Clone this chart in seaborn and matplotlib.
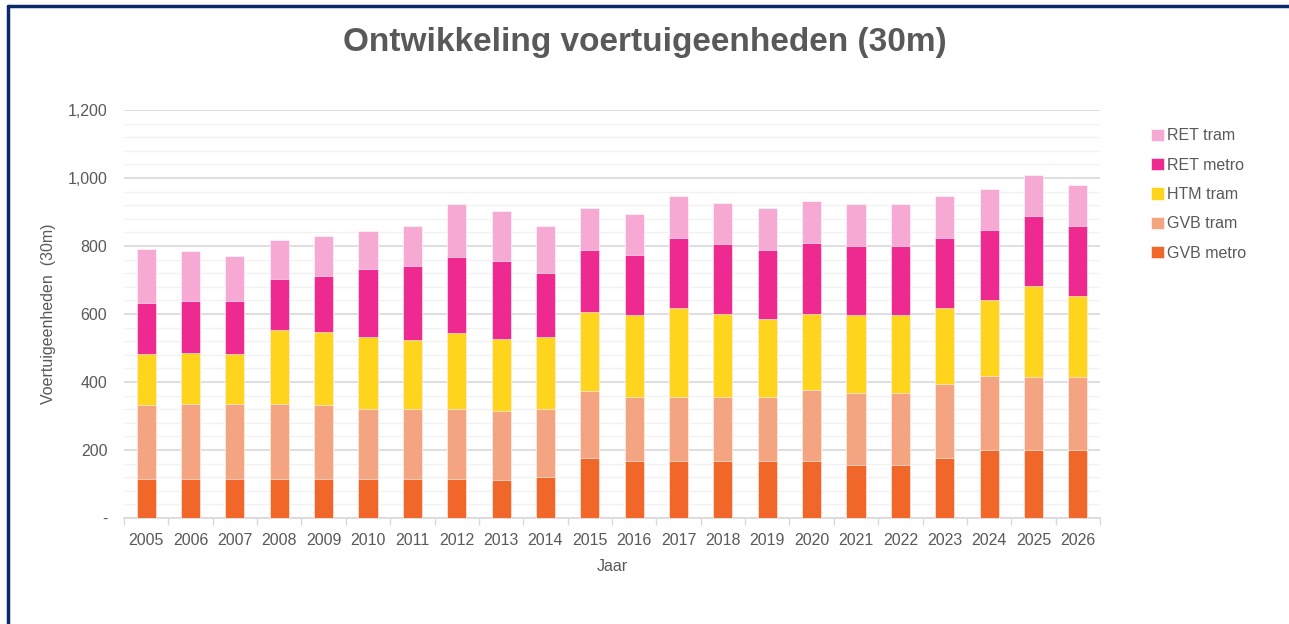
import numpy as np
import pandas as pd
import matplotlib
matplotlib.use("Agg")
import matplotlib.pyplot as plt
from matplotlib.patches import Patch
from matplotlib.lines import Line2D
from matplotlib.ticker import MultipleLocator, FixedLocator, FuncFormatter
import seaborn as sns

# data (units of 30m)
years = [str(y) for y in range(2005, 2027)]
gvb_metro = [116, 116, 116, 116, 116, 116, 116, 116, 112, 120, 176, 169, 169, 169, 169, 169, 157, 157, 176, 201, 201, 201]
gvb_tram = [215, 219, 219, 219, 215, 204, 204, 204, 204, 200, 197, 187, 187, 187, 187, 207, 212, 212, 217, 217, 213, 213]
htm_tram = [151, 151, 147, 217, 217, 211, 204, 224, 211, 211, 232, 241, 262, 245, 228, 225, 228, 228, 225, 224, 269, 240]
ret_metro = [151, 151, 155, 152, 164, 200, 216, 225, 230, 189, 184, 176, 207, 204, 205, 208, 204, 204, 207, 204, 204, 205]
ret_tram = [159, 147, 135, 113, 117, 114, 118, 154, 146, 138, 122, 122, 123, 122, 122, 122, 123, 123, 123, 123, 122, 121]

series = ["GVB metro", "GVB tram", "HTM tram", "RET metro", "RET tram"]
colors = ["#F1672A", "#F5A481", "#FED51C", "#EE2A91", "#F6A9D2"]

df = pd.DataFrame({"Jaar": years,
                   "GVB metro": gvb_metro,
                   "GVB tram": gvb_tram,
                   "HTM tram": htm_tram,
                   "RET metro": ret_metro,
                   "RET tram": ret_tram})
cum = df[series].cumsum(axis=1)

sns.set_theme(style="white")
plt.rcParams['font.family'] = ['Liberation Sans', 'DejaVu Sans']
grey = "#595959"

fig = plt.figure(figsize=(12.89, 6.24), dpi=100)
ax = fig.add_axes([124 / 1289, 106 / 624, 976 / 1289, 408 / 624])

# draw stacked bars top-down so each lower layer covers the one above
for name, col in reversed(list(zip(series, colors))):
    sns.barplot(x=df["Jaar"], y=cum[name], color=col, width=0.43,
                edgecolor="white", linewidth=0.4, saturation=1, ax=ax, zorder=3)

ax.set_ylim(0, 1200)
ax.set_xlim(-0.5, len(years) - 0.5)
ax.yaxis.set_major_locator(MultipleLocator(200))
ax.yaxis.set_minor_locator(MultipleLocator(40))
ax.yaxis.set_major_formatter(FuncFormatter(lambda v, p: "-" if v == 0 else f"{int(v):,}"))
ax.grid(which="major", axis="y", color="#D9D9D9", linewidth=1.2, zorder=0)
ax.grid(which="minor", axis="y", color="#F2F2F2", linewidth=1.0, zorder=0)
ax.set_axisbelow(True)

for s in ["top", "right", "left"]:
    ax.spines[s].set_visible(False)
ax.spines["bottom"].set_color("#D9D9D9")
ax.spines["bottom"].set_linewidth(1.2)

ax.xaxis.set_minor_locator(FixedLocator(np.arange(-0.5, len(years), 1.0)))
ax.tick_params(axis="x", which="major", length=0, pad=11, labelsize=11.5, labelcolor=grey)
ax.tick_params(axis="x", which="minor", length=5, width=1, color="#D9D9D9", bottom=True)
ax.tick_params(axis="y", which="both", length=0, pad=12, labelsize=11.5, labelcolor=grey)

ax.set_xlabel("Jaar", fontsize=11.5, color=grey, labelpad=8)
ax.set_ylabel("Voertuigeenheden  (30m)", fontsize=11.5, color=grey, labelpad=8)

fig.text(0.5, 1 - 43 / 624, "Ontwikkeling voertuigeenheden (30m)", ha="center", va="center",
         fontsize=24, fontweight="bold", color=grey)

handles = [Patch(facecolor=c, edgecolor="white", linewidth=0.4) for c in colors][::-1]
fig.legend(handles, series[::-1], loc="upper left", bbox_to_anchor=(1137 / 1289, 1 - 114 / 624),
           frameon=False, fontsize=11.5, labelcolor=grey, handlelength=0.8, handleheight=0.8,
           handletextpad=0.2, labelspacing=0.9)

# navy frame on top and left edge, as in the original
fig.add_artist(Line2D([8 / 1289, 1], [1 - 6 / 624, 1 - 6 / 624], transform=fig.transFigure,
                      color="#0B2A6B", linewidth=2.5))
fig.add_artist(Line2D([8 / 1289, 8 / 1289], [0, 1 - 6 / 624], transform=fig.transFigure,
                      color="#0B2A6B", linewidth=2.5))

fig.savefig("out.png", dpi=100, facecolor="white")
